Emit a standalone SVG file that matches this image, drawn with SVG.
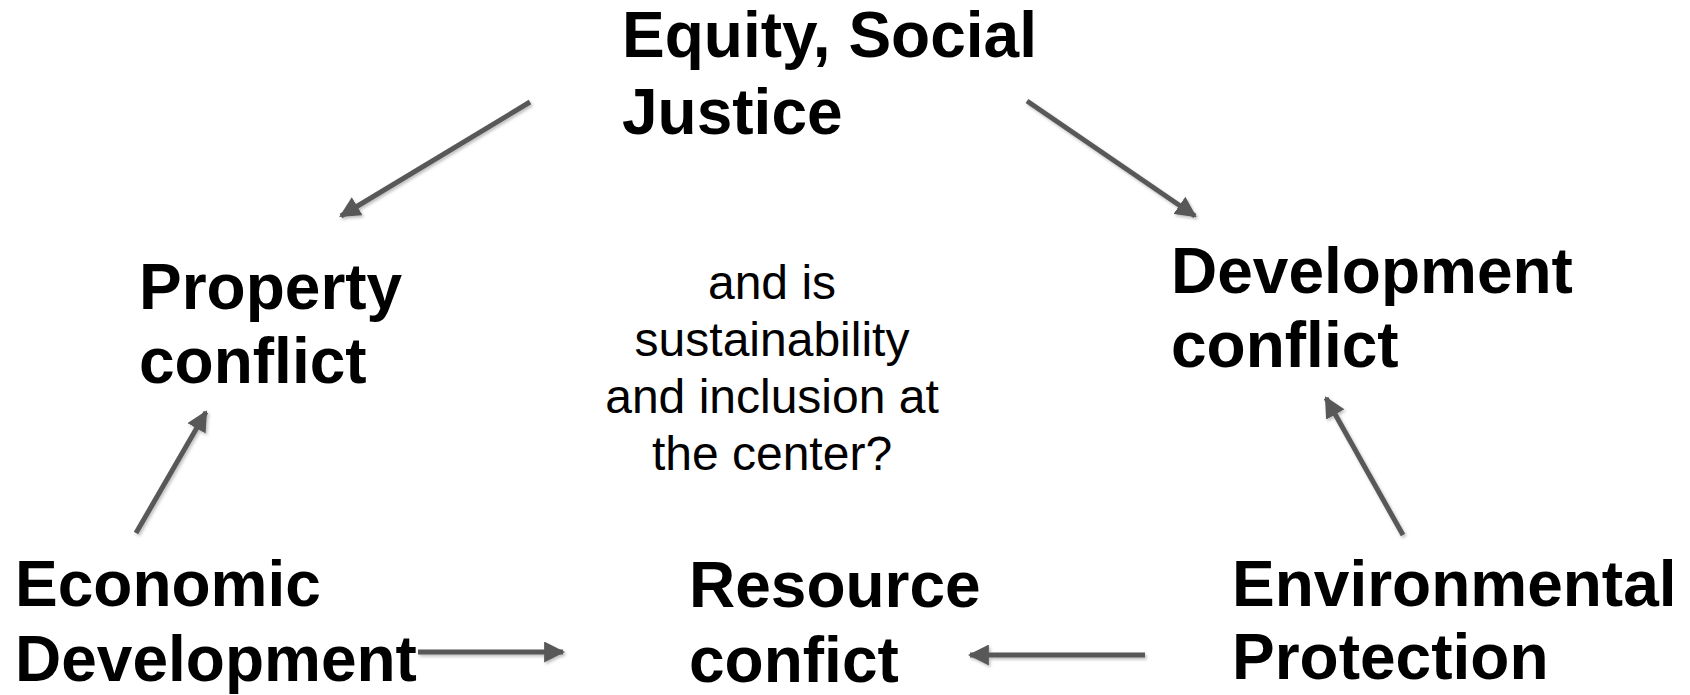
<svg xmlns="http://www.w3.org/2000/svg" width="1690" height="695" viewBox="0 0 1690 695">
<style>
.b{font-family:"Liberation Sans",Arial,sans-serif;font-weight:bold;font-size:64px;fill:#000}
.r{font-family:"Liberation Sans",Arial,sans-serif;font-size:48px;fill:#000;text-anchor:middle}
.a{stroke:#595959;stroke-width:5;fill:none;marker-end:url(#ah);filter:url(#sh)}
</style>
<defs>
<marker id="ah" viewBox="0 0 10 10" refX="9" refY="5" markerWidth="4.2" markerHeight="4.2" orient="auto" markerUnits="strokeWidth">
<path d="M0,0 L10,5 L0,10 z" fill="#595959"/>
</marker>
<filter id="sh" filterUnits="userSpaceOnUse" x="0" y="0" width="1690" height="695">
<feDropShadow dx="1.5" dy="2" stdDeviation="1.5" flood-color="#000" flood-opacity="0.25"/>
</filter>
</defs>
<rect width="1690" height="695" fill="#fff"/>
<g id="equity"><text class="b" x="622" y="57">Equity, Social<tspan x="622" y="134">Justice</tspan></text></g>
<g id="property"><text class="b" x="139" y="309">Property<tspan x="139" y="383">conflict</tspan></text></g>
<g id="development"><text class="b" x="1171" y="293">Development<tspan x="1171" y="367">conflict</tspan></text></g>
<g id="economic"><text class="b" x="15" y="606">Economic<tspan x="15" y="681">Development</tspan></text></g>
<g id="resource"><text class="b" x="689" y="607">Resource<tspan x="689" y="682">confict</tspan></text></g>
<g id="environmental"><text class="b" x="1232" y="606">Environmental<tspan x="1232" y="679">Protection</tspan></text></g>
<g id="center"><text class="r" x="772" y="299">and is<tspan x="772" y="356">sustainability</tspan><tspan x="772" y="413">and inclusion at</tspan><tspan x="772" y="470">the center?</tspan></text></g>
<g id="connectors">
<line class="a" x1="530" y1="102" x2="341" y2="216"/>
<line class="a" x1="1027" y1="101" x2="1195" y2="216"/>
<line class="a" x1="136" y1="533" x2="206" y2="412"/>
<line class="a" x1="1403" y1="535" x2="1326" y2="398"/>
<line class="a" x1="418" y1="652" x2="563" y2="652"/>
<line class="a" x1="1145" y1="655" x2="970" y2="655"/>
</g>
</svg>
